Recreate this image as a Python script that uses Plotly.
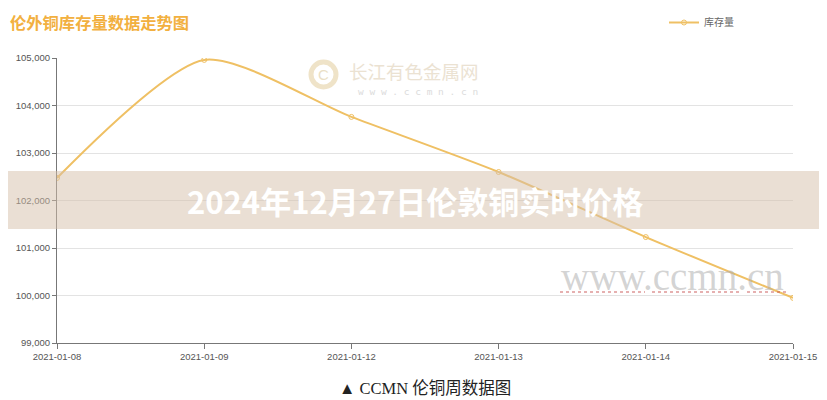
import plotly.graph_objects as go

dates = ["2021-01-08", "2021-01-09", "2021-01-12", "2021-01-13", "2021-01-14", "2021-01-15"]
stock = [102475, 104960, 103760, 102600, 101230, 99950]
y_ticks = [99000, 100000, 101000, 102000, 103000, 104000, 105000]

chart_title = "伦外铜库存量数据走势图"
series_name = "库存量"
banner_text = "2024年12月27日伦敦铜实时价格"
caption = "▲ CCMN 伦铜周数据图"

# page body has an 8px margin; the figure is drawn 8px in from the top-left corner
OFF = 8
W, H = 827 - OFF, 400 - OFF
L, R, T, B = 57 - OFF, 34, 58 - OFF, 57
pw, ph = W - L - R, H - T - B


def px_x(p):
    return (p - OFF - L) / pw


def px_y(p):
    return (H - B - (p - OFF)) / ph


line_color = "#efc064"

fig = go.Figure()
fig.add_trace(go.Scatter(
    x=dates, y=stock, name=series_name, mode="lines+markers",
    line=dict(color=line_color, width=2, shape="spline", smoothing=0.7),
    marker=dict(symbol="circle-open", size=5, color=line_color),
))

fig.update_layout(
    width=W, height=H,
    margin=dict(l=L, r=R, t=T, b=B, autoexpand=False),
    paper_bgcolor="white", plot_bgcolor="white",
    font=dict(family="Liberation Sans, Noto Sans CJK SC, sans-serif", color="#555", size=10),
    showlegend=True,
    legend=dict(x=px_x(664), y=px_y(8), xanchor="left", yanchor="top",
                font=dict(size=10, color="#666", family="Noto Sans CJK SC"),
                bgcolor="rgba(0,0,0,0)", itemwidth=30, borderwidth=0),
    xaxis=dict(type="category", range=[0, len(dates) - 1], showgrid=False,
               showline=True, linecolor="#777", linewidth=1,
               ticks="outside", ticklen=5, tickcolor="#777",
               tickfont=dict(size=9.5, color="#555")),
    yaxis=dict(range=[y_ticks[0], y_ticks[-1]], tickvals=y_ticks, tickformat=",",
               showgrid=True, gridcolor="#e3e3e3", gridwidth=1,
               showline=True, linecolor="#777", linewidth=1,
               ticks="outside", ticklen=4, tickcolor="#777",
               tickfont=dict(size=9.5, color="#555"), zeroline=False),
)

shapes = []
# watermark logo circle
shapes.append(dict(type="circle", xref="paper", yref="paper",
                   x0=px_x(311), x1=px_x(336), y0=px_y(87), y1=px_y(62),
                   line=dict(color="#efe3c8", width=5), fillcolor="rgba(0,0,0,0)", layer="below"))
# squiggle underlines of watermark
for a, b in [(560, 645), (652, 740), (747, 786)]:
    shapes.append(dict(type="line", xref="paper", yref="paper",
                       x0=px_x(a), x1=px_x(b), y0=px_y(292), y1=px_y(292),
                       line=dict(color="rgba(200,80,80,0.6)", width=1.5, dash="dot")))
# banner band
shapes.append(dict(type="rect", xref="paper", yref="paper",
                   x0=px_x(0), x1=px_x(827), y0=px_y(229), y1=px_y(171),
                   line=dict(width=0), fillcolor="rgba(214,192,170,0.5)", layer="above"))
fig.update_layout(shapes=shapes)

ann = []
ann.append(dict(text="<b>" + chart_title + "</b>", xref="paper", yref="paper",
                x=px_x(8), y=px_y(8), xanchor="left", yanchor="top", showarrow=False,
                font=dict(size=16.3, color="#f2b040", family="Noto Sans CJK SC")))
ann.append(dict(text="C", xref="paper", yref="paper",
                x=px_x(323.5), y=px_y(75), xanchor="center", yanchor="middle", showarrow=False,
                font=dict(size=15, color="#eadfc6", family="Liberation Sans")))
ann.append(dict(text="长江有色金属网", xref="paper", yref="paper",
                x=px_x(347), y=px_y(71), xanchor="left", yanchor="middle", showarrow=False,
                font=dict(size=18.5, color="#ebe2d2", family="Noto Sans CJK SC")))
ann.append(dict(text="w w w . c c m n . c n", xref="paper", yref="paper",
                x=px_x(356), y=px_y(91), xanchor="left", yanchor="middle", showarrow=False,
                font=dict(size=9.5, color="#dcdcdc", family="DejaVu Sans Mono")))
ann.append(dict(text="www.ccmn.cn", xref="paper", yref="paper",
                x=px_x(672), y=px_y(276), xanchor="center", yanchor="middle", showarrow=False,
                font=dict(size=39, color="rgba(175,175,175,0.55)", family="Liberation Serif")))
ann.append(dict(text="<b>" + banner_text + "</b>", xref="paper", yref="paper",
                x=px_x(415), y=px_y(200), xanchor="center", yanchor="middle", showarrow=False,
                font=dict(size=31, color="white", family="Noto Sans CJK SC")))
ann.append(dict(text=caption, xref="paper", yref="paper",
                x=px_x(425), y=px_y(388), xanchor="center", yanchor="middle", showarrow=False,
                font=dict(size=16.5, color="#222", family="Liberation Serif, Noto Sans CJK SC")))
fig.update_layout(annotations=ann)

fig.write_html("out.html")
